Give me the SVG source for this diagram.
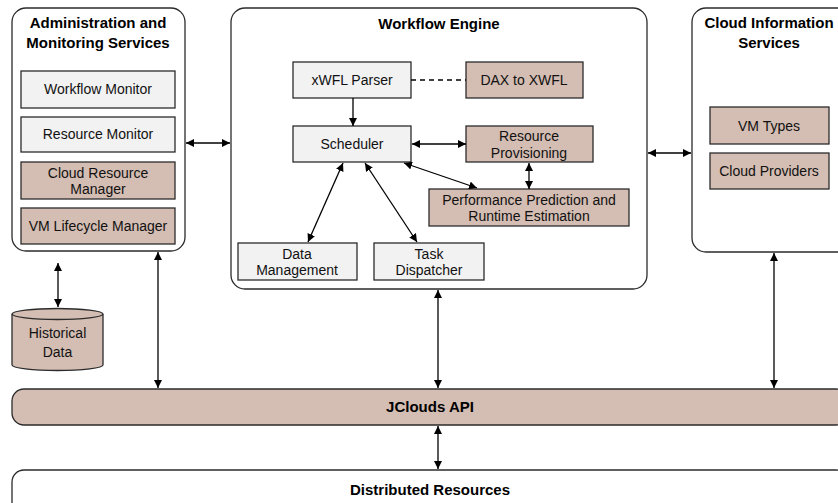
<svg xmlns="http://www.w3.org/2000/svg" width="838" height="503" viewBox="0 0 838 503">
<style>
.cont{fill:#fff;stroke:#2b2b2b;stroke-width:1.3}
.g{fill:#f2f2f2;stroke:#2b2b2b;stroke-width:1.3}
.b{fill:#d4bdb2;stroke:#2b2b2b;stroke-width:1.3}
.t{font-family:"Liberation Sans",Arial,sans-serif;font-size:14px;fill:#111;text-anchor:middle}
.h{font-family:"Liberation Sans",Arial,sans-serif;font-size:15px;font-weight:bold;fill:#000;text-anchor:middle}
.c{stroke:#000;stroke-width:1.3;fill:none}
</style>
<defs>
<marker id="ae" viewBox="0 0 10 10" refX="10" refY="5" markerWidth="8" markerHeight="8" markerUnits="userSpaceOnUse" orient="auto"><path d="M0,0L10,5L0,10z" fill="#000"/></marker>
<marker id="as" viewBox="0 0 10 10" refX="0" refY="5" markerWidth="8" markerHeight="8" markerUnits="userSpaceOnUse" orient="auto"><path d="M10,0L0,5L10,10z" fill="#000"/></marker>
</defs>

<g id="admin">
<rect class="cont" x="12" y="8" width="173" height="243" rx="14"/>
<text class="h" x="98" y="28">Administration and</text>
<text class="h" x="98" y="48">Monitoring Services</text>
</g>
<g id="workflow-monitor"><rect class="g" x="21" y="71" width="154" height="37"/><text class="t" x="98" y="94">Workflow Monitor</text></g>
<g id="resource-monitor"><rect class="g" x="21" y="117" width="154" height="35"/><text class="t" x="98" y="139">Resource Monitor</text></g>
<g id="cloud-resource-manager"><rect class="b" x="21" y="162" width="154" height="37"/><text class="t" x="98" y="178">Cloud Resource</text><text class="t" x="98" y="194">Manager</text></g>
<g id="vm-lifecycle-manager"><rect class="b" x="21" y="208" width="154" height="36"/><text class="t" x="98" y="231">VM Lifecycle Manager</text></g>

<g id="workflow-engine">
<rect class="cont" x="231" y="8" width="416" height="281" rx="14"/>
<text class="h" x="439" y="29">Workflow Engine</text>
</g>
<g id="xwfl-parser"><rect class="g" x="293" y="62" width="118" height="36"/><text class="t" x="352" y="85">xWFL Parser</text></g>
<g id="dax-to-xwfl"><rect class="b" x="466" y="62" width="117" height="36"/><text class="t" x="524" y="85">DAX to XWFL</text></g>
<g id="scheduler"><rect class="g" x="293" y="126" width="118" height="36"/><text class="t" x="352" y="149">Scheduler</text></g>
<g id="resource-provisioning"><rect class="b" x="466" y="126" width="127" height="36"/><text class="t" x="529" y="141">Resource</text><text class="t" x="529" y="158">Provisioning</text></g>
<g id="performance-prediction"><rect class="b" x="429" y="189" width="200" height="37"/><text class="t" x="529" y="205">Performance Prediction and</text><text class="t" x="529" y="221">Runtime Estimation</text></g>
<g id="data-management"><rect class="g" x="238" y="243" width="119" height="37"/><text class="t" x="297" y="259">Data</text><text class="t" x="297" y="275">Management</text></g>
<g id="task-dispatcher"><rect class="g" x="374" y="243" width="110" height="37"/><text class="t" x="429" y="259">Task</text><text class="t" x="429" y="275">Dispatcher</text></g>

<g id="cloud-information-services">
<rect class="cont" x="692" y="8" width="160" height="244" rx="14"/>
<text class="h" x="769" y="28">Cloud Information</text>
<text class="h" x="769" y="48">Services</text>
</g>
<g id="vm-types"><rect class="b" x="710" y="107" width="119" height="37"/><text class="t" x="769" y="131">VM Types</text></g>
<g id="cloud-providers"><rect class="b" x="710" y="153" width="119" height="36"/><text class="t" x="769" y="176">Cloud Providers</text></g>

<g id="historical-data">
<path class="b" d="M12,314 L12,365 A45.5,5.5 0 0 0 103,365 L103,314"/>
<ellipse class="b" cx="57.5" cy="314" rx="45.5" ry="5.5"/>
<text class="t" x="57.5" y="338">Historical</text>
<text class="t" x="57.5" y="357">Data</text>
</g>

<g id="jclouds-api"><rect class="b" x="12" y="389" width="836" height="36" rx="12"/><text class="h" x="430" y="412">JClouds API</text></g>
<g id="distributed-resources"><rect class="cont" x="12" y="470" width="836" height="50" rx="12"/><text class="h" x="430" y="495">Distributed Resources</text></g>

<g id="connectors">
<line class="c" x1="186" y1="143" x2="230" y2="143" marker-start="url(#as)" marker-end="url(#ae)"/>
<line class="c" x1="648" y1="153" x2="691" y2="153" marker-start="url(#as)" marker-end="url(#ae)"/>
<line class="c" x1="411" y1="80" x2="466" y2="80" stroke-dasharray="5,4"/>
<line class="c" x1="353" y1="98" x2="353" y2="126" marker-end="url(#ae)"/>
<line class="c" x1="412" y1="144" x2="466" y2="144" marker-start="url(#as)" marker-end="url(#ae)"/>
<line class="c" x1="529" y1="163" x2="529" y2="189" marker-start="url(#as)" marker-end="url(#ae)"/>
<line class="c" x1="404" y1="163" x2="477" y2="188" marker-start="url(#as)" marker-end="url(#ae)"/>
<line class="c" x1="343" y1="163" x2="308" y2="242" marker-start="url(#as)" marker-end="url(#ae)"/>
<line class="c" x1="365" y1="163" x2="417" y2="242" marker-start="url(#as)" marker-end="url(#ae)"/>
<line class="c" x1="58" y1="263" x2="58" y2="307" marker-start="url(#as)" marker-end="url(#ae)"/>
<line class="c" x1="158" y1="252" x2="158" y2="388" marker-start="url(#as)" marker-end="url(#ae)"/>
<line class="c" x1="438" y1="290" x2="438" y2="388" marker-start="url(#as)" marker-end="url(#ae)"/>
<line class="c" x1="774" y1="253" x2="774" y2="388" marker-start="url(#as)" marker-end="url(#ae)"/>
<line class="c" x1="438" y1="426" x2="438" y2="469" marker-start="url(#as)" marker-end="url(#ae)"/>
</g>
</svg>
